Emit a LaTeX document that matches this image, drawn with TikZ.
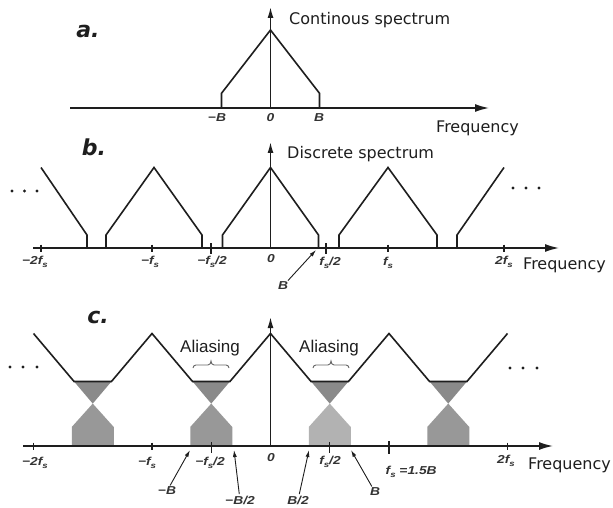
\documentclass[tikz,border=0pt]{standalone}
\usepackage{fontspec}
\usepackage{graphicx}
\setmainfont{DejaVu Sans}
\newfontfamily\lblfont{Liberation Sans}
\usetikzlibrary{arrows.meta}
\definecolor{ink}{RGB}{30,30,30}
\definecolor{upgray}{RGB}{138,138,138}
\definecolor{lowgray}{RGB}{152,152,152}
\definecolor{lowlight}{RGB}{178,178,178}
\newcommand{\fsub}{f\raisebox{-0.45ex}{\fontsize{8}{8}\selectfont s}}
\newcommand{\hsx}[1]{\scalebox{1.2}[1]{#1}}
\begin{document}
\begin{tikzpicture}[x=1pt,y=-1pt,
  haxis/.style={line width=1.5pt, draw=ink, -{Latex[length=14pt,width=8pt]}},
  vaxis/.style={line width=1.5pt, draw=ink, -{Latex[length=11pt,width=6pt]}},
  spec/.style={line width=1.6pt, draw=ink, line join=miter},
  tickmark/.style={line width=1.2pt, draw=ink},
  ptr/.style={line width=0.9pt, draw=ink, shorten <=1pt, -{Latex[length=7pt,width=4pt]}},
  title/.style={font=\fontsize{16}{19}\selectfont, inner sep=0pt, anchor=base west, text=ink},
  lbl/.style={font=\lblfont\bfseries\itshape\fontsize{11.5}{13}\selectfont, inner sep=0.5pt, text=black!80},
  panelletter/.style={font=\bfseries\itshape\fontsize{22}{26}\selectfont, inner sep=0pt, text=ink},
  aliastext/.style={font=\lblfont\fontsize{17}{20}\selectfont, inner sep=0pt, text=ink},
  dotm/.style={circle, fill=ink, inner sep=0pt, minimum size=3.4pt},
  brace/.style={line width=0.9pt, draw=black!60}
]
\useasboundingbox (0,0) rectangle (613,508);
\fill[white] (0,0) rectangle (613,508);

% ---------------- panel a ----------------
\coordinate (aL) at (70,108);
\coordinate (aR) at (489,108);
\coordinate (aO) at (270.5,108);
\coordinate (aT) at (270.5,7);
\draw[spec] (221.5,108) -- (221.5,93.3) -- (270.5,30) -- (319.5,93.3) -- (319.5,108);
\draw[haxis] (aL) -- (aR);
\draw[vaxis] (aO) -- (aT);
\node[panelletter] (aLet) at (88,31) {a.};
\node[title] (aTitle) at (289,25) {Continous spectrum};
\node[title] (aFreq) at (436,133) {Frequency};
\node[lbl] (amB) at (217,118) {\hsx{−B}};
\node[lbl] (a0) at (270.5,118) {\hsx{0}};
\node[lbl] (aB) at (319,118) {\hsx{B}};

% ---------------- panel b ----------------
\coordinate (bL) at (33,248);
\coordinate (bR) at (559,248);
\coordinate (bO) at (270.5,248);
\coordinate (bT) at (270.5,142);
\draw[spec] (41,167.5) -- (87,235) -- (87,248);
\draw[spec] (106,248) -- (106,235) -- (154,167.5) -- (202,235) -- (202,248);
\draw[spec] (222.5,248) -- (222.5,235) -- (270.5,167.5) -- (318.5,235) -- (318.5,248);
\draw[spec] (339,248) -- (339,235) -- (388,167.5) -- (437,235) -- (437,248);
\draw[spec] (457,248) -- (457,235) -- (504,167.5);
\foreach \x in {41,152,388,504} \draw[tickmark] (\x,244.5) -- (\x,251.5);
\foreach \x in {211,326} \draw[tickmark] (\x,243) -- (\x,254);
\draw[haxis] (bL) -- (bR);
\draw[vaxis] (bO) -- (bT);
\node[panelletter] (bLet) at (94,147) {b.};
\node[title] (bTitle) at (287,159) {Discrete spectrum};
\node[title] (bFreq) at (523,269) {Frequency};
\node[lbl] (bm2fs) at (35,262) {\hsx{−2\fsub}};
\node[lbl] (bmfs) at (150,262) {\hsx{−\fsub}};
\node[lbl] (bmhf) at (212,262) {\hsx{−\fsub/2}};
\node[lbl] (b0) at (271,259) {\hsx{0}};
\node[lbl] (bhf) at (330,263) {\hsx{\fsub/2}};
\node[lbl] (bfs) at (388,263) {\hsx{\fsub}};
\node[lbl] (b2fs) at (504,262) {\hsx{2\fsub}};
\node[lbl] (bB) at (283,286) {\hsx{B}};
\coordinate (bBtip) at (316,250);
\draw[ptr] (bB) -- (bBtip);
\node[dotm] (bd1) at (12,191) {};
\node[dotm] (bd2) at (24.5,191) {};
\node[dotm] (bd3) at (37,191) {};
\node[dotm] (bd4) at (513,188) {};
\node[dotm] (bd5) at (526,188) {};
\node[dotm] (bd6) at (539,188) {};

% ---------------- panel c ----------------
\coordinate (cL) at (23,446);
\coordinate (cR) at (553,446);
\coordinate (cO) at (270.5,446);
\coordinate (cT) at (270.5,317);
% gray aliasing regions
\foreach \g in {92.75,211.25,448.25} {
  \fill[upgray] ({\g-18.69},381.5) -- ({\g+18.69},381.5) -- (\g,403.6) -- cycle;
  \fill[lowgray] ({\g-21},446) -- ({\g-21},427) -- (\g,403.6) -- ({\g+21},427) -- ({\g+21},446) -- cycle;
}
\fill[upgray] (311.06,381.5) -- (348.44,381.5) -- (329.75,403.6) -- cycle;
\fill[lowlight] (308.75,446) -- (308.75,427) -- (329.75,403.6) -- (350.75,427) -- (350.75,446) -- cycle;
\draw[spec] (33.5,333.5) -- (74.06,381.5) -- (111.44,381.5) -- (152,333.5) -- (192.56,381.5) -- (229.94,381.5)
  -- (270.5,333.5) -- (311.06,381.5) -- (348.44,381.5) -- (389,333.5) -- (429.56,381.5) -- (466.94,381.5) -- (507.5,333.5);
\foreach \x in {33.5,152,507.5} \draw[tickmark] (\x,442.5) -- (\x,449.5);
\foreach \x in {211.25,329.75} \draw[tickmark] (\x,442) -- (\x,453);
\draw[tickmark] (389,441) -- (389,454);
\draw[haxis] (cL) -- (cR);
\draw[vaxis] (cO) -- (cT);
\node[panelletter] (cLet) at (98,317) {c.};
\node[aliastext] (al1) at (210,348) {Aliasing};
\node[aliastext] (al2) at (329,348) {Aliasing};
\draw[brace] (193,368) to[out=90,in=180] (196,365) -- (208,365) to[out=0,in=-90] (211,361)
  to[out=-90,in=180] (214,365) -- (226,365) to[out=0,in=90] (229,368);
\draw[brace] (313,368) to[out=90,in=180] (316,365) -- (328,365) to[out=0,in=-90] (331,361)
  to[out=-90,in=180] (334,365) -- (346,365) to[out=0,in=90] (349,368);
\node[title] (cFreq) at (528,469) {Frequency};
\node[lbl] (cm2fs) at (35,463) {\hsx{−2\fsub}};
\node[lbl] (cmfs) at (147,463) {\hsx{−\fsub}};
\node[lbl] (cmhf) at (210,463) {\hsx{−\fsub/2}};
\node[lbl] (c0) at (271,458) {\hsx{0}};
\node[lbl] (chf) at (330,462) {\hsx{\fsub/2}};
\node[lbl, anchor=west] (cfs) at (385,472) {\hsx{\fsub\ =1.5B}};
\node[lbl] (c2fs) at (506,461) {\hsx{2\fsub}};
\node[lbl] (cmB) at (167,491) {\hsx{−B}};
\node[lbl] (cmB2) at (240,500) {\hsx{−B/2}};
\node[lbl] (cB2) at (298,500) {\hsx{B/2}};
\node[lbl] (cB) at (375,492) {\hsx{B}};
\coordinate (cmBtip) at (190,450);
\coordinate (cmB2tip) at (234,450);
\coordinate (cB2tip) at (309,450);
\coordinate (cBtip) at (351,450);
\draw[ptr] (cmB) -- (cmBtip);
\draw[ptr] (cmB2) -- (cmB2tip);
\draw[ptr] (cB2) -- (cB2tip);
\draw[ptr] (cB) -- (cBtip);
\node[dotm] (cd1) at (10,367) {};
\node[dotm] (cd2) at (23,367) {};
\node[dotm] (cd3) at (37,367) {};
\node[dotm] (cd4) at (510,368) {};
\node[dotm] (cd5) at (523,368) {};
\node[dotm] (cd6) at (537,368) {};
\end{tikzpicture}
\end{document}
